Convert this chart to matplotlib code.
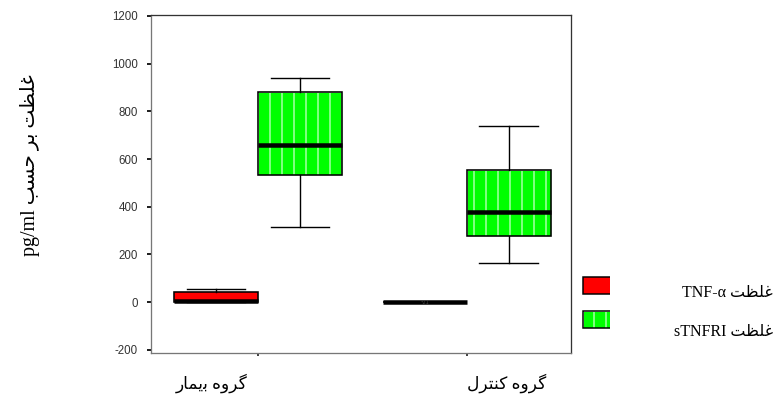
import matplotlib.pyplot as plt
from matplotlib.patches import Rectangle, PathPatch
from matplotlib.transforms import Bbox

plt.rcParams['axes.unicode_minus'] = False

# textos en persa, ya en formas de presentacion y orden visual (matplotlib no hace shaping)
ghelzat = "\uFE96\uFEC8\uFEE0\uFECF"          # غلظت
bar = "\uFEAE\uFE91"                            # بر
hasab = "\uFE90\uFEB4\uFEA3"                    # حسب
gorooh = "\uFEE9\uFEED\uFEAE\uFB94"             # گروه
bimar = "\uFEAD\uFE8E\uFEE4\uFBFE\uFE91"        # بیمار
control = "\uFEDD\uFEAE\uFE98\uFEE8\uFB90"      # کنترل

grupos = [bimar + " " + gorooh, control + " " + gorooh]
series = ["TNF-α " + ghelzat, "sTNFRI " + ghelzat]
ylabel = "pg/ml " + hasab + " " + bar + " " + ghelzat

# estadisticos de las cajas (whislo, q1, med, q3, whishi)
tnf_whislo = [0, 0]
tnf_q1 = [0, -1]
tnf_med = [6, 0]
tnf_q3 = [43, 1]
tnf_whishi = [55, 2]

stnfri_whislo = [315, 166]
stnfri_q1 = [533, 278]
stnfri_med = [658, 380]
stnfri_q3 = [880, 552]
stnfri_whishi = [938, 738]

colores = {"TNF": "#ff0000", "sTNFRI": "#00ff00"}
fuente = ["Liberation Serif", "DejaVu Sans"]

W, H = 784, 403
fig = plt.figure(figsize=(W / 72, H / 72), dpi=72)
ax = fig.add_axes([151 / W, 1 - 353 / H, 420 / W, 338 / H])

def stats(lo, q1, med, q3, hi):
    return [dict(whislo=a, q1=b, med=c, q3=d, whishi=e, fliers=[])
            for a, b, c, d, e in zip(lo, q1, med, q3, hi)]

pos = [1, 2]
ancho = 0.4
comun = dict(widths=ancho, capwidths=0.28, patch_artist=True, showfliers=False,
             medianprops=dict(color="black", linewidth=4.5, solid_capstyle="butt"),
             whiskerprops=dict(color="black", linewidth=1.4),
             capprops=dict(color="black", linewidth=1.4))

# TNF-alfa (rojo)
b1 = ax.bxp(stats(tnf_whislo, tnf_q1, tnf_med, tnf_q3, tnf_whishi),
            positions=[p - 0.2 for p in pos],
            boxprops=dict(facecolor=colores["TNF"], edgecolor="black", linewidth=1.6),
            **comun)

# sTNFRI (verde con rayas blancas)
b2 = ax.bxp(stats(stnfri_whislo, stnfri_q1, stnfri_med, stnfri_q3, stnfri_whishi),
            positions=[p + 0.2 for p in pos],
            boxprops=dict(facecolor=colores["sTNFRI"], edgecolor="white", hatch="|", linewidth=0.8),
            **comun)
for caja in b2["boxes"]:
    borde = PathPatch(caja.get_path(), transform=caja.get_transform(),
                      facecolor="none", edgecolor="black", linewidth=1.6, zorder=caja.get_zorder() + 0.1)
    ax.add_patch(borde)
for m in b2["medians"]:
    m.set_zorder(5)

# etiqueta de caso atipico
ax.text(pos[1] - 0.2, 0, "*21", fontsize=5, color="#444444", ha="center", va="center",
        family="DejaVu Sans", zorder=6)

ax.set_xlim(0.488, 2.498)
ax.set_ylim(-213, 1203.5)
ax.set_yticks(range(-200, 1201, 200))
ax.set_xticks(pos)
ax.set_xticklabels(["", ""])
ax.tick_params(axis="y", direction="out", length=4, width=2, color="#222222", pad=9,
               labelsize=11.5, labelcolor="#333333")
ax.tick_params(axis="x", direction="out", length=3, width=2, color="#444444")
for lab in ax.get_yticklabels():
    lab.set_family("Liberation Sans")
for s in ax.spines.values():
    s.set_color("#333333")
    s.set_linewidth(1.3)
ax.spines["left"].set_color("#777777")
ax.spines["bottom"].set_color("#777777")

# etiquetas de grupos
ax.text(0.78, -0.06, grupos[0], transform=ax.get_xaxis_transform(), ha="center", va="top",
        fontsize=17, family=fuente)
ax.text(2.19, -0.06, grupos[1], transform=ax.get_xaxis_transform(), ha="center", va="top",
        fontsize=17, family=fuente)

fig.text(30 / W, 1 - 165 / H, ylabel, rotation=90, ha="center", va="center",
         fontsize=20, family=fuente)

# leyenda
clip = Bbox([[0, 0], [610, H]])
r1 = Rectangle((583 / W, 1 - 294 / H), 40 / W, 17 / H, transform=fig.transFigure,
               facecolor=colores["TNF"], edgecolor="black", linewidth=1.5)
r2 = Rectangle((583 / W, 1 - 328 / H), 40 / W, 17 / H, transform=fig.transFigure,
               facecolor=colores["sTNFRI"], edgecolor="white", hatch="|", linewidth=0.8)
r3 = Rectangle((583 / W, 1 - 328 / H), 40 / W, 17 / H, transform=fig.transFigure,
               facecolor="none", edgecolor="black", linewidth=1.5)
for r in (r1, r2, r3):
    fig.add_artist(r)
    r.set_clip_box(clip)
    r.set_clip_on(True)

fig.text(773 / W, 1 - 293 / H, series[0], ha="right", va="center", fontsize=16, family=fuente)
fig.text(773 / W, 1 - 332 / H, series[1], ha="right", va="center", fontsize=16, family=fuente)

plt.savefig("out.png", dpi=72)
